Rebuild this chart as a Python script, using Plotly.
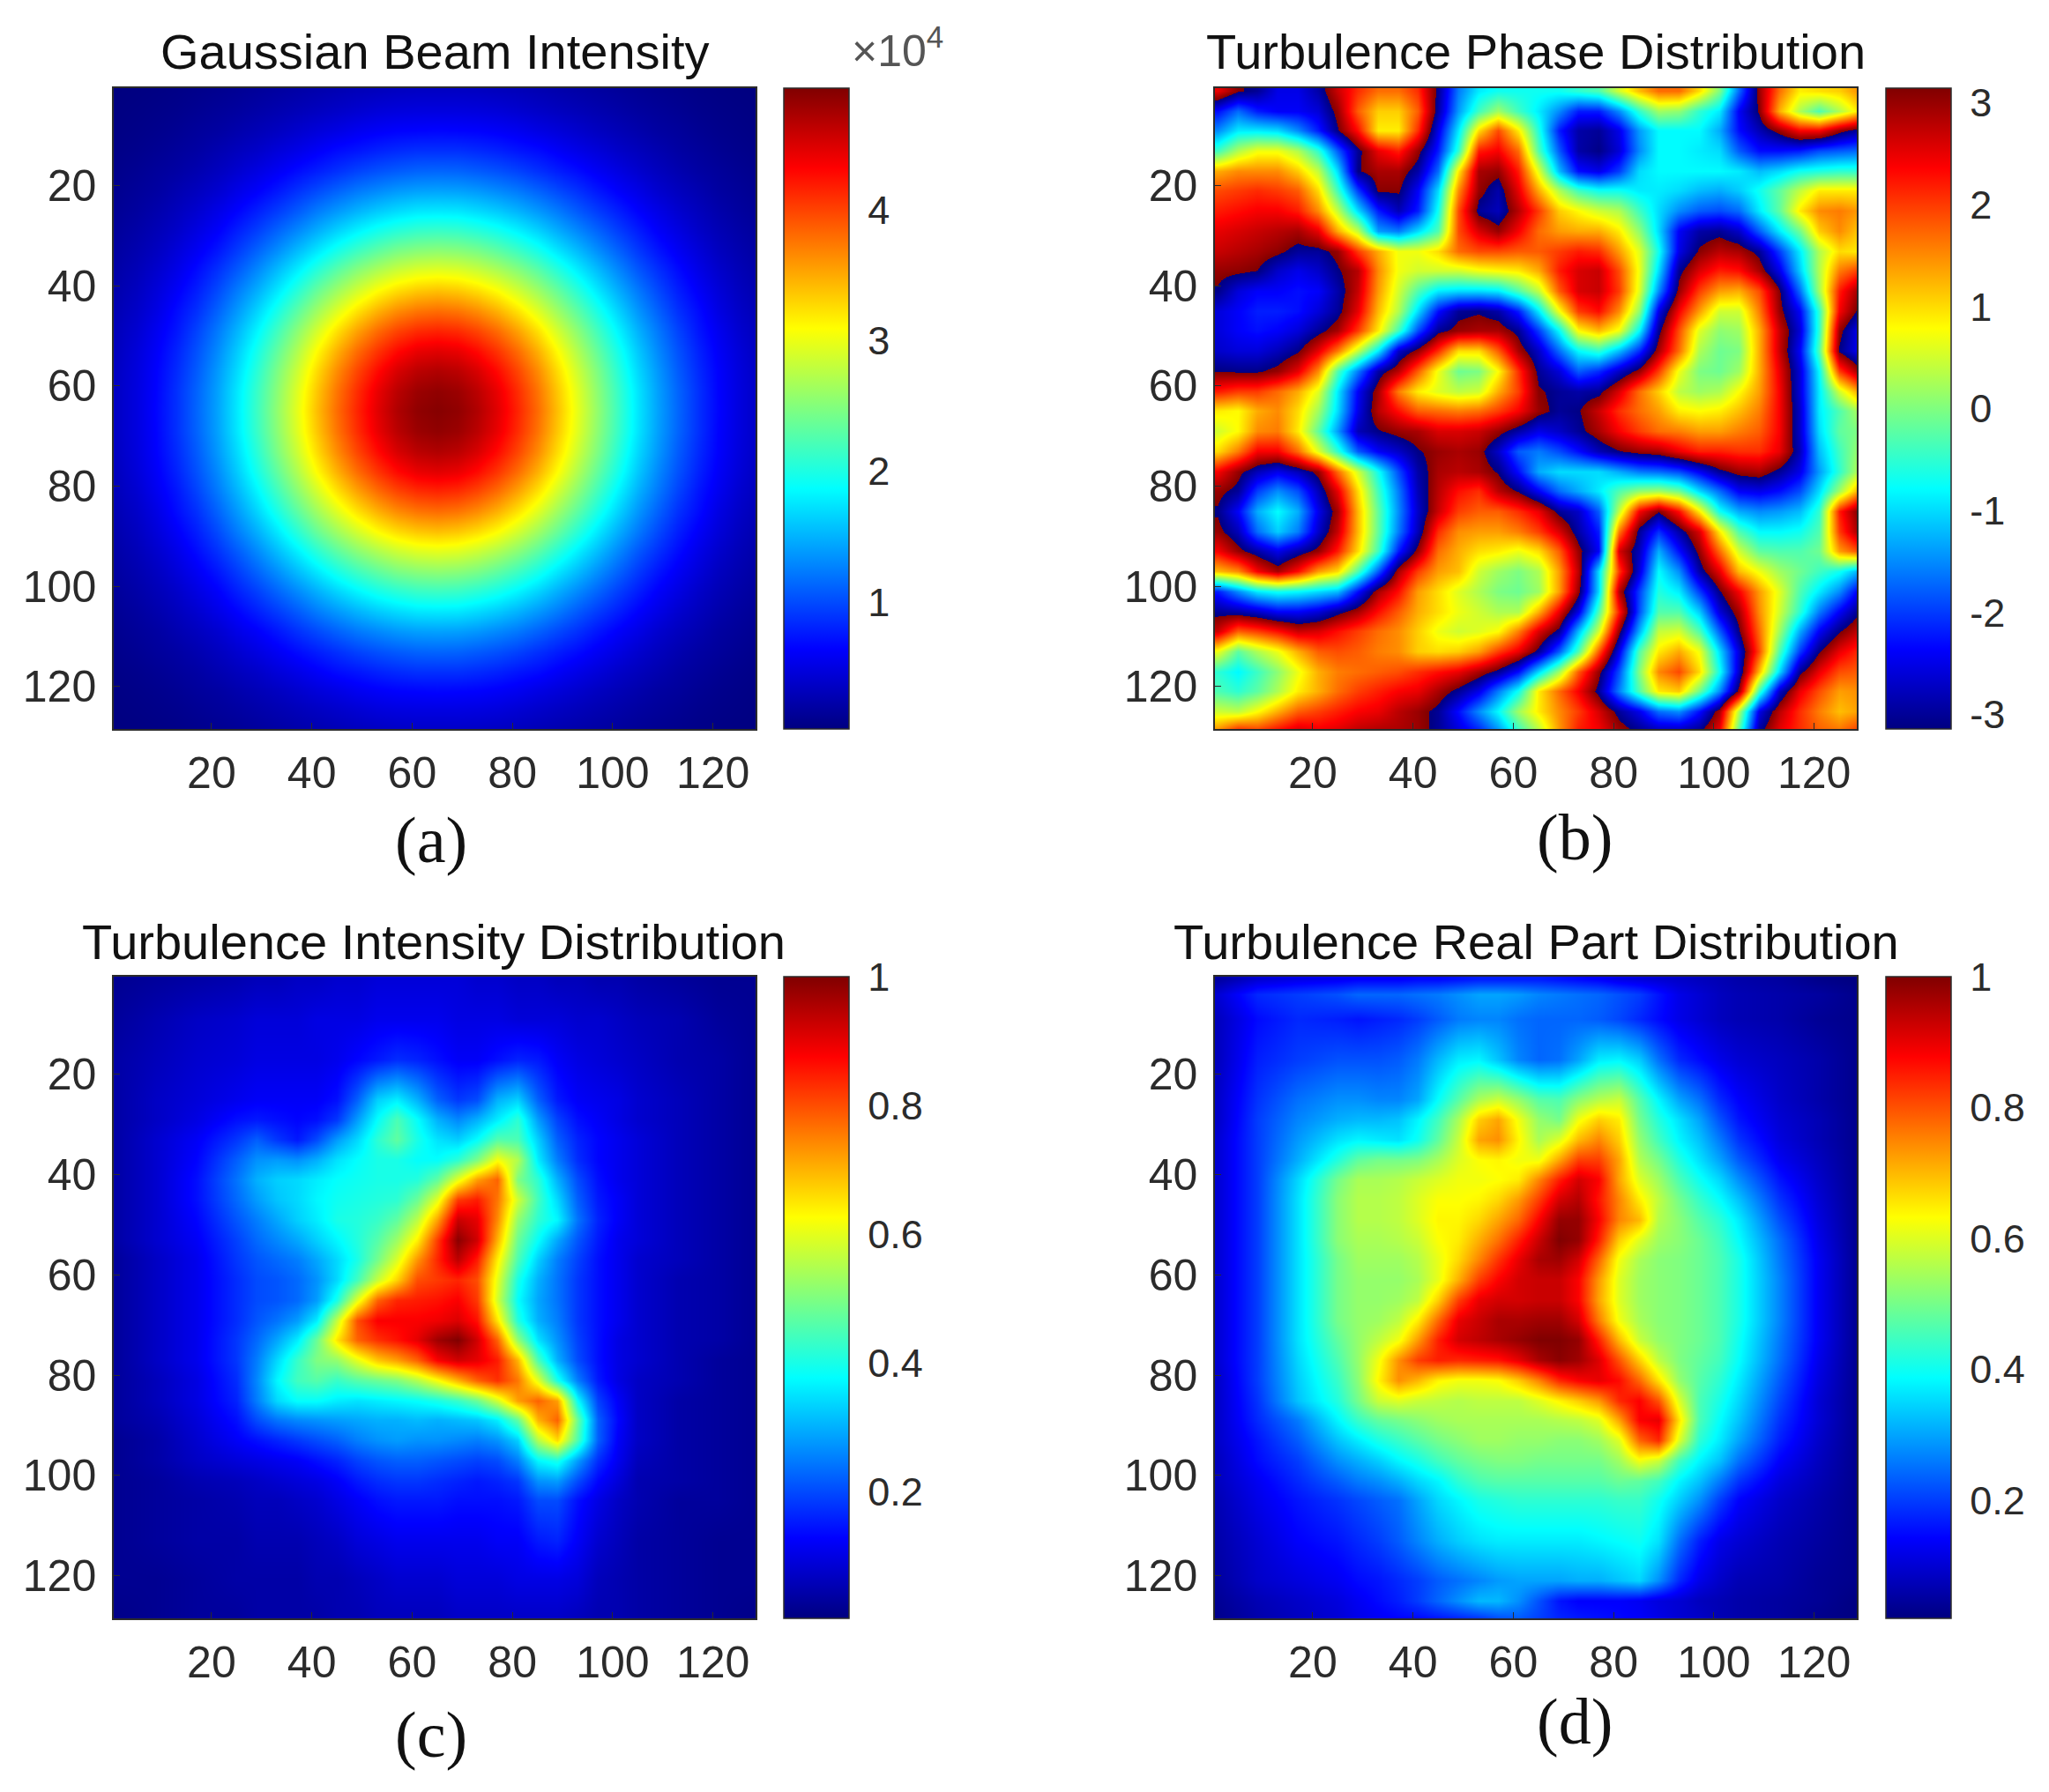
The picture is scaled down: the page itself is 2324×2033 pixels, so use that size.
import math
import plotly.graph_objects as go

W, H = 2324, 2033

# ---------- grid coordinates (pixel index of the 128x128 maps) ----------
grid_a = [1 + 4 * i for i in range(33)]
grid_b = [1 + 4 * i for i in range(33)]
grid_cd = [1, 9, 17, 25, 29, 33, 37, 41, 45, 49, 53, 57, 61, 65, 69, 73, 77, 81, 85, 89, 93, 97, 101, 105, 113, 121, 129]
rows_c = list(grid_cd)
rows_d = [1, 4] + grid_cd[1:-1] + [125, 129]

# ---------- (a) intensity, in thousands: quadrant read from the centre outwards ----------
a_quad = [
[49,48.5,47,44.6,41.5,38,34,29.7,25.6,21.5,17.6,14.2,11.3,8.7,6.6,4.9,3.6],
[48.5,48,46.5,44.2,41.1,37.6,33.6,29.4,25.3,21.3,17.5,14.1,11.2,8.7,6.5,4.9,3.6],
[47,46.5,45.1,42.8,39.9,36.5,32.6,28.5,24.6,20.6,16.9,13.7,10.8,8.4,6.4,4.8,3.5],
[44.6,44.2,42.8,40.7,38,34.7,31,27.1,23.3,19.6,16.1,13,10.3,8,6.1,4.6,3.3],
[41.5,41.1,39.9,38,35.4,32.3,28.8,25.3,21.7,18.2,15,12.2,9.6,7.4,5.7,4.2,3.1],
[38,37.6,36.5,34.7,32.3,29.4,26.3,23.1,19.8,16.6,13.7,11.1,8.7,6.9,5.1,3.8,2.8],
[34,33.6,32.6,31,28.8,26.3,23.6,20.6,17.6,14.8,12.3,9.9,7.8,6.1,4.6,3.4,2.5],
[29.7,29.4,28.5,27.1,25.3,23.1,20.6,18,15.5,13,10.7,8.7,6.9,5.3,4,3,2.2],
[25.6,25.3,24.6,23.3,21.7,19.8,17.6,15.5,13.3,11.2,9.2,7.4,5.9,4.6,3.4,2.6,1.9],
[21.5,21.3,20.6,19.6,18.2,16.6,14.8,13,11.2,9.4,7.8,6.2,5,3.8,2.9,2.2,1.6],
[17.6,17.5,16.9,16.1,15,13.7,12.3,10.7,9.2,7.8,6.4,5.2,4.1,3.2,2.4,1.8,1.3],
[14.2,14.1,13.7,13,12.2,11.1,9.9,8.7,7.4,6.2,5.2,4.1,3.3,2.6,1.9,1.5,1.05],
[11.3,11.2,10.8,10.3,9.6,8.7,7.8,6.9,5.9,5,4.1,3.3,2.6,2,1.6,1.2,.85],
[8.7,8.7,8.4,8,7.4,6.9,6.1,5.3,4.6,3.8,3.2,2.6,2,1.6,1.2,.9,.65],
[6.6,6.5,6.4,6.1,5.7,5.1,4.6,4,3.4,2.9,2.4,1.9,1.6,1.2,.9,.7,.5],
[4.9,4.9,4.8,4.6,4.2,3.8,3.4,3,2.6,2.2,1.8,1.5,1.2,.9,.7,.55,.4],
[3.6,3.6,3.5,3.3,3.1,2.8,2.5,2.2,1.9,1.6,1.3,1.05,.85,.65,.5,.4,.3],
]
a_rows = a_quad[:0:-1] + a_quad
a_z = [r[:0:-1] + r for r in a_rows]

# ---------- (b) phase, read across the +-pi jumps ----------
b_z = [
[-3.8,-3.2,-3.0,-2.5,-2.5,-2.9,-3.6,-4.2,-4.6,-4.6,-4.2,-3.0,-1.6,-.9,-.7,-.7,-.7,-.7,-.5,-.3,.5,1.2,1.7,1.7,1.0,0,-1.7,-3.3,-4.6,-5.4,-5.3,-5.2,-4.8],
[-2.3,-1.7,-2.2,-2.4,-2.4,-2.6,-3.3,-4.5,-5.2,-5.2,-4.5,-2.9,-1.4,-.4,.2,-.4,-.9,-1.5,-2.2,-2.2,-1.5,-.5,.2,.1,-.5,-.9,-2.4,-3.2,-5.0,-6.0,-6.6,-6.0,-5.3],
[-1.5,-.9,-.9,-1.0,-1.5,-2.2,-3.1,-4.0,-5.4,-5.4,-4.2,-2.5,-.9,1.0,1.9,.9,-.6,-2.2,-2.9,-3.0,-2.5,-1.4,-.8,-.8,-.8,-1.3,-2.3,-2.8,-3.3,-3.9,-3.9,-3.3,-2.9],
[-.4,.3,.7,.7,.3,-.5,-1.8,-3.0,-3.8,-4.1,-3.3,-2.2,-.5,2.2,2.4,1.7,-.3,-1.8,-2.9,-3.1,-2.6,-1.5,-.8,-.8,-.9,-1.0,-1.8,-2.3,-2.3,-2.2,-1.9,-1.8,-1.7],
[1.3,1.5,1.5,1.5,1.1,.4,-1.0,-3.1,-3.4,-3.4,-2.9,-1.7,.9,2.9,3.0,2.2,.6,-1.2,-2.3,-2.5,-2.0,-1.0,-.8,-.8,-.8,-.8,-.9,-1.2,-1.0,-.7,-.6,-.5,-.5],
[1.9,2.0,2.1,2.0,1.8,1.0,-.4,-2.0,-3.2,-3.2,-2.4,-1.0,1.5,3.0,3.4,2.5,1.3,.3,-.4,-.7,-.7,-.9,-.9,-1.0,-1.2,-1.3,-1.1,-.7,-.2,.4,.9,.9,.9],
[2.2,2.3,2.4,2.4,2.2,1.5,.4,-1.0,-2.2,-2.8,-2.2,-.7,1.9,3.3,3.5,2.8,2.0,1.1,.8,.5,.3,-.4,-1.0,-1.5,-1.8,-1.9,-1.7,-.9,-.2,.9,1.5,1.6,1.4],
[2.5,2.6,2.7,2.8,2.9,2.5,1.3,.4,-1.4,-1.6,-1.0,-.3,1.9,2.6,3.0,2.4,1.7,1.4,1.3,1.3,.9,.1,-1.0,-2.4,-2.9,-3.0,-2.7,-1.8,-.9,-.1,1.1,1.5,1.1],
[2.7,2.8,2.9,3.05,3.3,3.3,3.0,2.0,1.3,.7,.7,1.0,1.7,1.9,1.9,1.8,1.8,2.0,2.2,2.1,1.4,.6,-.7,-2.5,-3.2,-3.5,-3.4,-3.0,-2.0,-.9,.3,1.0,.9],
[3.0,3.05,3.15,3.6,3.8,3.6,3.2,2.8,1.5,.7,.5,.5,.5,.7,.8,.9,1.3,2.2,2.6,2.7,1.9,.7,-1.0,-3.0,-3.7,-4.1,-4.0,-3.4,-2.5,-1.1,.3,1.6,2.0],
[3.2,3.7,3.9,3.9,4.0,3.9,3.4,2.7,1.4,.5,-.3,-.9,-1.0,-1.0,-.9,-.3,.4,1.8,2.6,2.7,2.0,.6,-1.5,-3.3,-4.3,-4.9,-5.0,-4.4,-3.2,-1.7,.2,2.2,3.0],
[3.7,3.9,4.1,4.1,4.0,3.7,3.3,2.5,1.2,.3,-1.0,-2.3,-3.0,-3.1,-2.9,-2.2,-.9,.7,2.0,2.3,1.5,.1,-2.5,-3.9,-4.9,-5.8,-5.8,-4.7,-3.3,-2.4,-.5,2.4,3.3],
[3.7,3.9,4.0,3.9,3.7,3.3,2.9,2.0,.9,-.4,-1.9,-3.0,-3.3,-3.4,-3.4,-3.0,-2.0,-.8,.8,1.2,.7,-.8,-3.0,-4.4,-5.7,-6.2,-6.1,-5.0,-3.6,-2.6,-.5,3.0,3.9],
[3.6,3.7,3.7,3.5,3.2,2.5,1.6,.4,-.9,-2.7,-3.3,-4.2,-5.3,-5.3,-4.5,-3.4,-2.7,-1.7,-.8,-.5,-1.2,-2.1,-3.4,-4.6,-6.0,-6.4,-6.3,-5.0,-3.6,-2.4,-.3,3.2,3.9],
[3.15,3.2,3.2,3.0,2.5,1.5,-.3,-1.6,-2.9,-3.5,-4.5,-5.6,-6.4,-6.3,-5.5,-4.2,-3.0,-2.6,-1.8,-2.1,-2.7,-3.3,-4.3,-5.6,-6.3,-6.4,-6.1,-5.0,-3.8,-2.6,-.8,2.0,3.0],
[2.2,2.0,2.0,1.7,1.3,.6,-.9,-2.4,-3.4,-4.7,-5.4,-5.7,-5.9,-5.8,-5.0,-4.3,-3.2,-3.0,-2.9,-3.0,-3.7,-4.6,-5.2,-5.9,-6.1,-6.0,-5.5,-4.9,-3.9,-2.6,-.9,.5,1.4],
[.9,.8,1.3,1.5,1.0,.2,-1.0,-2.5,-3.5,-4.0,-4.5,-4.6,-4.7,-4.6,-4.3,-3.9,-3.3,-3.0,-3.1,-3.6,-4.2,-4.6,-4.9,-5.4,-5.5,-5.4,-5.1,-4.7,-3.9,-2.7,-.9,-.3,.3],
[.5,.8,1.5,1.6,.9,-.2,-1.4,-2.8,-3.1,-3.3,-3.4,-3.7,-3.7,-3.6,-3.3,-2.9,-2.5,-2.7,-3.0,-3.4,-3.9,-4.3,-4.6,-4.7,-4.9,-4.9,-4.7,-4.5,-3.9,-2.7,-1.0,-.2,0],
[1.0,1.6,2.4,2.4,1.7,.6,-.5,-1.8,-2.4,-2.7,-3.1,-3.3,-3.4,-3.3,-2.7,-1.8,-1.6,-1.9,-2.3,-2.8,-3.1,-3.3,-3.4,-3.8,-4.1,-4.1,-4.2,-4.2,-3.8,-2.8,-1.2,-.4,.2],
[2.4,3.0,3.5,3.8,3.5,3.0,1.7,.5,-.7,-1.9,-2.9,-3.4,-3.5,-3.4,-3.1,-2.3,-1.3,-1.0,-1.0,-1.0,-1.3,-1.6,-1.7,-1.9,-2.4,-3.0,-3.3,-3.4,-3.0,-2.5,-1.4,-.5,.4],
[3.0,3.3,4.3,4.8,4.4,3.5,2.5,1.0,-.4,-1.6,-2.8,-3.5,-4.0,-4.2,-3.5,-3.1,-2.4,-1.7,-1.3,-.9,-.3,.1,.2,-.1,-1.0,-1.7,-2.4,-2.5,-2.3,-1.9,-1.0,.2,1.4],
[3.2,3.9,5.0,5.5,5.0,3.8,2.9,1.2,-.2,-1.5,-2.7,-3.6,-4.3,-4.5,-4.5,-4.2,-3.8,-3.0,-2.7,-1.8,.4,2.4,3.1,2.3,.9,-.7,-1.3,-1.5,-1.4,-1.2,-.5,2.2,3.2],
[3.0,3.5,4.6,5.2,4.7,3.6,2.7,1.2,-.2,-1.6,-2.8,-4.2,-4.8,-4.9,-4.9,-4.7,-4.3,-3.7,-2.9,-2.2,1.6,3.3,4.2,3.4,2.6,.9,-.3,-.8,-.8,-.7,-.3,2.0,3.0],
[2.4,3.0,3.4,3.8,3.4,3.0,2.2,1.0,-.4,-2.2,-3.3,-4.6,-5.0,-5.3,-5.4,-5.6,-5.3,-4.5,-3.3,-2.4,2.6,3.5,5.0,4.0,3.0,1.7,.5,-.2,-.3,-.3,-.1,1.4,1.9],
[1.2,1.5,2.4,2.9,2.3,1.4,1.0,-.3,-1.8,-3.4,-4.3,-4.9,-5.1,-5.8,-6.1,-6.3,-6.0,-4.9,-3.5,-1.0,2.0,3.7,5.5,4.8,3.4,2.5,1.2,.7,.2,-.1,-.4,-.7,-1.3],
[-2.2,-1.5,-.9,-.7,-.8,-1.0,-1.2,-2.3,-3.4,-4.0,-4.9,-5.3,-5.7,-6.0,-6.3,-6.4,-6.1,-4.9,-3.3,-1.0,2.8,4.3,5.7,5.4,4.3,3.2,2.4,1.4,.6,-.3,-.9,-1.5,-2.5],
[-3.0,-2.9,-2.7,-2.4,-2.4,-2.6,-3.0,-3.4,-4.0,-4.5,-5.0,-5.3,-5.6,-5.8,-6.0,-6.0,-5.0,-3.8,-2.5,-.3,2.2,4.4,6.0,6.0,5.2,3.7,2.9,1.5,.5,-.5,-1.6,-2.4,-3.1],
[-3.6,-4.5,-4.3,-4.0,-3.6,-3.7,-4.0,-4.3,-4.6,-4.8,-5.2,-5.6,-5.8,-5.7,-5.5,-4.7,-3.7,-3.0,-1.2,.5,3.0,5.0,6.7,6.8,6.0,4.5,3.2,1.7,.2,-1.3,-2.4,-3.1,-3.6],
[-5.6,-6.5,-6.0,-5.6,-5.0,-4.5,-4.4,-4.5,-4.7,-4.8,-5.2,-5.3,-5.2,-4.9,-4.3,-3.8,-3.0,-1.8,-.3,1.8,3.8,6.0,7.2,7.6,7.0,5.3,3.7,1.9,-.3,-2.0,-3.1,-3.8,-4.2],
[-6.8,-7.1,-6.7,-6.2,-5.6,-5.0,-4.7,-4.6,-4.5,-4.4,-4.2,-4.0,-3.8,-3.4,-3.0,-2.3,-1.0,.2,1.8,3.0,4.4,6.3,7.8,8.2,7.3,5.6,3.6,1.2,-1.0,-3.0,-3.8,-4.4,-4.5],
[-6.6,-6.8,-6.5,-6.0,-5.4,-5.0,-4.6,-4.3,-4.1,-3.9,-3.8,-3.4,-3.0,-2.5,-1.6,-.7,.9,1.7,2.4,3.3,4.7,6.0,7.2,7.4,6.2,4.8,3.0,-.4,-2.7,-3.8,-4.4,-4.9,-4.8],
[-5.8,-5.9,-5.5,-5.0,-4.5,-4.3,-4.1,-3.9,-3.8,-3.5,-3.3,-3.0,-2.3,-1.5,-.8,.2,.9,1.5,2.0,2.6,3.3,3.8,4.6,4.8,4.0,2.9,.3,-2.5,-3.5,-4.2,-4.7,-5.1,-4.9],
[-4.7,-4.0,-4.2,-3.9,-3.6,-3.8,-3.7,-3.5,-3.4,-3.4,-3.3,-3.0,-2.6,-2.2,-1.5,-.5,.3,1.4,2.2,2.4,2.9,3.2,3.4,3.4,3.2,2.4,-.3,-3.0,-3.8,-4.2,-4.5,-4.6,-4.2],
]

# ---------- (c) intensity, percent of the maximum ----------
c_z = [
[2,3,4,5,6,6,7,7,8,8,9,9,9,9,9,8,8,7,7,6,6,5,5,4,3,2,2],
[3,5,7,8,9,9,9,10,10,10,11,11,11,11,10,10,10,9,9,9,8,8,7,6,5,3,2],
[4,6,8,9,10,10,10,10,11,13,15,17,16,14,12,12,14,16,15,12,10,9,8,7,5,4,2],
[4,7,9,11,12,12,12,12,14,22,33,36,30,22,18,20,30,33,22,15,12,11,10,8,6,4,2],
[4,7,10,14,15,14,13,14,18,28,38,45,38,30,26,30,36,42,28,19,14,12,10,8,6,4,2],
[4,8,12,18,22,18,15,20,28,34,42,47,40,35,33,38,46,45,33,22,16,13,11,9,6,4,2],
[4,8,13,22,27,28,27,30,35,38,40,40,38,38,42,50,62,55,36,25,17,13,11,9,6,4,2],
[4,8,14,24,30,33,34,36,38,39,40,40,41,47,60,72,78,50,42,30,20,14,11,9,6,4,2],
[4,8,14,23,28,32,34,37,39,40,41,42,48,60,82,85,76,58,44,34,22,15,12,9,6,4,2],
[4,8,13,21,25,29,33,36,40,41,43,47,56,72,93,90,74,52,42,37,24,16,12,9,6,4,2],
[4,8,12,19,23,26,29,33,37,41,46,53,64,82,99,92,70,48,38,29,21,15,11,9,6,4,2],
[3,7,11,18,21,23,25,29,34,40,49,59,73,84,94,85,64,45,33,25,19,14,11,8,6,4,2],
[3,7,11,17,20,21,23,27,34,44,57,67,80,82,84,80,60,40,30,24,18,14,11,8,5,4,2],
[3,7,11,17,20,21,23,28,40,60,78,84,85,86,88,82,58,38,29,24,18,14,11,8,5,4,2],
[3,7,11,17,21,24,28,36,57,80,88,88,88,89,91,86,65,41,30,25,18,14,11,8,5,4,2],
[3,7,11,18,23,29,36,48,65,78,83,86,90,97,100,92,78,52,35,27,19,14,10,8,5,4,2],
[3,7,11,18,25,34,43,50,52,60,68,72,78,88,92,90,85,70,45,30,20,14,10,8,5,3,2],
[3,6,10,17,26,37,44,46,43,46,48,50,55,62,70,78,83,76,60,40,25,15,10,7,5,3,2],
[3,6,10,16,25,34,38,38,36,35,36,37,38,40,43,48,58,72,78,72,38,19,12,7,4,3,2],
[3,5,9,14,20,24,26,27,28,29,30,30,31,30,31,32,36,47,70,78,48,22,13,7,4,3,2],
[2,4,8,12,14,16,18,20,22,25,27,28,27,27,26,25,27,33,55,66,45,22,12,7,4,3,2],
[2,4,7,9,10,11,12,14,16,19,21,22,22,21,20,19,20,25,37,40,28,17,11,6,4,3,2],
[2,3,5,6,7,8,9,10,12,15,17,18,18,17,16,15,16,18,27,28,20,13,9,5,4,3,2],
[2,3,4,5,6,6,7,8,10,12,14,15,15,15,14,14,14,15,20,20,14,10,7,5,3,3,2],
[2,3,4,4,5,5,5,6,7,9,10,11,11,11,11,11,12,12,15,16,12,8,6,4,3,2,2],
[2,2,3,4,4,4,4,5,5,6,7,8,8,8,9,9,9,10,10,10,9,6,5,4,3,2,2],
[1,2,3,3,4,4,4,4,5,5,6,6,6,6,7,7,7,7,7,7,6,5,5,4,3,2,1],
]

# ---------- (d) real part, percent of the maximum ----------
d_z = [
[5,10,12,13,14,14,14,15,15,16,17,17,17,17,16,15,14,12,11,10,9,8,7,6,5,3,2],
[10,18,20,22,24,24,24,25,26,28,30,30,29,27,26,25,24,22,20,16,12,10,8,7,6,5,3],
[8,15,18,17,16,17,18,20,23,26,27,27,25,24,24,24,23,21,18,15,12,10,8,7,6,4,3],
[8,17,20,22,22,22,23,26,32,37,38,33,27,24,25,30,37,38,34,25,18,15,12,10,8,6,3],
[9,19,25,28,28,27,27,30,39,47,55,58,53,47,46,52,56,58,47,38,30,25,18,14,9,6,3],
[9,20,27,31,32,32,33,38,45,55,68,72,62,53,50,62,68,65,50,42,36,30,22,16,10,7,3],
[10,20,29,36,38,37,36,40,48,58,72,74,64,55,60,70,75,68,53,45,38,33,26,19,11,7,3],
[10,20,31,42,48,50,50,51,55,60,63,64,62,62,72,82,82,72,56,50,42,36,30,23,13,8,3],
[10,20,35,50,55,55,56,58,60,62,62,63,65,75,85,92,88,72,60,54,46,40,35,28,16,9,3],
[10,20,36,52,56,56,57,60,63,63,64,67,73,82,92,95,86,75,65,57,50,44,39,33,19,10,3],
[10,20,36,52,56,56,57,60,64,64,67,72,78,88,98,98,88,75,70,56,52,47,43,37,22,11,3],
[10,20,36,52,55,55,56,58,63,65,71,77,85,93,100,98,85,68,60,54,52,49,45,39,25,12,3],
[10,20,36,50,54,54,54,56,61,67,75,83,90,96,97,92,78,62,55,52,51,49,46,41,26,13,3],
[10,20,36,50,53,53,53,55,61,71,82,88,92,93,93,88,73,60,54,52,51,49,46,41,27,13,3],
[10,20,36,50,53,53,54,57,68,82,90,92,92,93,93,88,72,60,54,52,51,49,46,41,27,13,3],
[10,20,36,50,53,54,57,65,78,90,93,96,96,97,97,92,76,62,55,52,51,49,46,41,27,13,3],
[10,20,36,48,53,57,62,73,85,92,94,96,98,100,100,98,85,70,58,53,51,49,46,40,26,13,3],
[10,20,35,46,53,62,74,82,85,84,85,86,90,96,99,97,91,80,68,57,51,48,45,39,25,12,3],
[9,20,34,44,52,64,74,70,64,62,62,63,68,75,84,88,90,87,78,66,53,47,43,37,23,11,3],
[9,19,33,42,50,58,60,58,57,56,57,57,57,60,64,68,73,84,88,80,60,46,41,35,21,10,3],
[9,18,26,38,44,48,50,52,54,55,55,55,55,55,56,57,60,72,88,90,66,46,39,33,19,10,3],
[9,16,23,33,37,41,44,47,50,52,54,54,53,53,52,52,54,60,78,84,60,43,37,30,17,9,3],
[8,15,20,28,31,34,38,41,45,48,50,51,51,50,50,50,50,54,62,58,45,38,33,25,14,8,3],
[8,13,18,23,26,28,31,35,38,43,46,47,47,47,47,47,47,49,48,45,38,33,26,19,11,7,3],
[7,12,16,19,21,23,25,30,35,38,41,42,43,43,43,43,43,44,44,40,34,28,20,14,9,6,3],
[6,10,14,16,18,20,23,27,31,34,36,37,37,37,37,37,38,39,40,36,25,17,12,10,7,5,3],
[5,9,11,13,15,16,18,20,23,25,27,29,30,30,30,31,31,33,35,28,18,12,9,7,6,4,3],
[4,7,9,11,13,15,17,20,24,28,32,32,28,22,16,14,14,14,13,11,10,8,7,6,5,4,2],
[3,6,8,10,12,13,14,14,15,16,17,20,22,20,18,17,16,15,14,12,10,9,7,6,5,3,2],
]

titles = ["Gaussian Beam Intensity", "Turbulence Phase Distribution",
          "Turbulence Intensity Distribution", "Turbulence Real Part Distribution"]
captions = ["(a)", "(b)", "(c)", "(d)"]
axis_ticks = [20, 40, 60, 80, 100, 120]

a_bar_vals, a_bar_text = [10, 20, 30, 40], ["1", "2", "3", "4"]
b_bar_vals = [-3, -2, -1, 0, 1, 2, 3]
b_bar_text = ["-3", "-2", "-1", "0", "1", "2", "3"]
cd_bar_vals = [20, 40, 60, 80, 100]
cd_bar_text = ["0.2", "0.4", "0.6", "0.8", "1"]

# ---------- MATLAB jet ----------
jet_stops = [0, 1/8, 3/8, 5/8, 7/8, 1]
jet_cols = ["#000080", "#0000ff", "#00ffff", "#ffff00", "#ff0000", "#800000"]
jet = [[s, c] for s, c in zip(jet_stops, jet_cols)]
# phase values run across three periods so edges between +pi and -pi stay sharp
periods = 3
jet_cyc = [[(k + s) / periods, c] for k in range(periods) for s, c in zip(jet_stops, jet_cols)]
jet_cyc[-1][0] = 1.0

for name, z, nc in [("b", b_z, 33), ("c", c_z, 27), ("d", d_z, 27)]:
    for i, r in enumerate(z):
        assert len(r) == nc, (name, i, len(r))
assert len(b_z) == 33 and len(c_z) == 27 and len(d_z) == 29

INK = "#2b2b2b"
TICK = 50
BAR_TICK = 45

panels = [
    dict(L=129, R=857, T=100, B=827, bar=889),
    dict(L=1378, R=2106, T=100, B=827, bar=2139),
    dict(L=129, R=857, T=1108, B=1836, bar=889),
    dict(L=1378, R=2106, T=1108, B=1836, bar=2139),
]

fig = go.Figure()
layout = {}


def bar(p, vals, text):
    return dict(
        x=p["bar"] / W, xanchor="left", xref="paper", xpad=0,
        y=1 - p["T"] / H, yanchor="top", yref="paper", ypad=0,
        lenmode="pixels", len=p["B"] - p["T"], thickness=74, thicknessmode="pixels",
        tickmode="array", tickvals=vals, ticktext=text,
        ticks="outside", ticklen=12, tickcolor="rgba(0,0,0,0)", tickwidth=1,
        tickfont=dict(family="Liberation Sans", size=BAR_TICK, color=INK),
        outlinecolor=INK, outlinewidth=1.5,
    )


for n, p in enumerate(panels, start=1):
    sfx = "" if n == 1 else str(n)
    common = dict(
        range=[0.5, 128.5], tickmode="array", tickvals=axis_ticks,
        ticks="inside", ticklen=7, tickcolor=INK, tickwidth=1,
        showgrid=False, zeroline=False, showline=True, mirror=True,
        linecolor=INK, linewidth=1.5,
        tickfont=dict(family="Liberation Sans", size=TICK, color=INK),
    )
    layout["xaxis" + sfx] = dict(common, domain=[p["L"] / W, p["R"] / W],
                                 anchor="y" + sfx, ticklabelstandoff=5)
    yc = dict(common)
    yc["range"] = [128.5, 0.5]
    layout["yaxis" + sfx] = dict(yc, domain=[1 - p["B"] / H, 1 - p["T"] / H],
                                 anchor="x" + sfx, ticklabelstandoff=8)

fig.add_trace(go.Heatmap(x=grid_a, y=grid_a, z=a_z, zsmooth="best", colorscale=jet,
                         zmin=0.3, zmax=49.3, colorbar=bar(panels[0], a_bar_vals, a_bar_text),
                         xaxis="x", yaxis="y"))
fig.add_trace(go.Heatmap(x=grid_b, y=grid_b, z=b_z, zsmooth="best", colorscale=jet_cyc,
                         zmin=-periods * math.pi, zmax=periods * math.pi, showscale=False,
                         xaxis="x2", yaxis="y2"))
fig.add_trace(go.Scatter(x=[None], y=[None], mode="markers", showlegend=False, xaxis="x2", yaxis="y2",
                         marker=dict(color=[0], colorscale=jet, cmin=-math.pi, cmax=math.pi, showscale=True,
                                     colorbar=bar(panels[1], b_bar_vals, b_bar_text))))
fig.add_trace(go.Heatmap(x=grid_cd, y=rows_c, z=c_z, zsmooth="best", colorscale=jet,
                         zmin=0.3, zmax=100, colorbar=bar(panels[2], cd_bar_vals, cd_bar_text),
                         xaxis="x3", yaxis="y3"))
fig.add_trace(go.Heatmap(x=grid_cd, y=rows_d, z=d_z, zsmooth="best", colorscale=jet,
                         zmin=2, zmax=100, colorbar=bar(panels[3], cd_bar_vals, cd_bar_text),
                         xaxis="x4", yaxis="y4"))


def note(text, px, py, size, family="Liberation Sans", color="#111111"):
    return dict(text=text, x=px / W, y=1 - py / H, xref="paper", yref="paper",
                xanchor="center", yanchor="middle", showarrow=False,
                font=dict(family=family, size=size, color=color))


annotations = [
    note(titles[0], 494, 59, 56),
    note(titles[1], 1742, 59, 56),
    note(titles[2], 492, 1068, 56),
    note(titles[3], 1742, 1068, 56),
    note(captions[0], 489, 953, 74, "Liberation Serif"),
    note(captions[1], 1786, 950, 74, "Liberation Serif"),
    note(captions[2], 489, 1968, 74, "Liberation Serif"),
    note(captions[3], 1786, 1953, 74, "Liberation Serif"),
    note("×10<sup>4</sup>", 1018, 54, 50, color="#555555"),
]

fig.update_layout(width=W, height=H, margin=dict(l=0, r=0, t=0, b=0),
                  paper_bgcolor="white", plot_bgcolor="white", showlegend=False,
                  annotations=annotations, **layout)

fig.write_html("out.html", config={"displayModeBar": False},
               post_script="document.body.style.margin='0';document.body.style.overflow='hidden';")
